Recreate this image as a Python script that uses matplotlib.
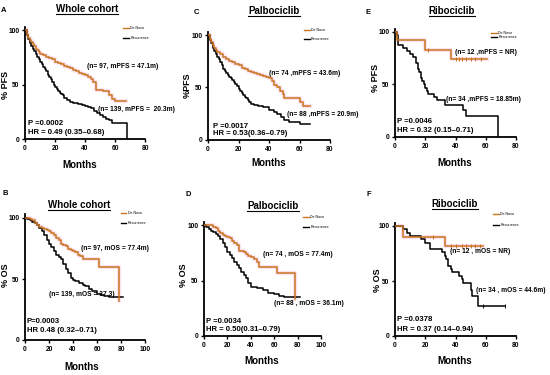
import matplotlib
matplotlib.use("Agg")
import matplotlib.pyplot as plt

plt.rcParams['font.family'] = ['Liberation Sans', 'DejaVu Sans']

# ---------------- data ----------------
# Panel A: Whole cohort PFS
A_dn_t = [0,1,2,3,4,5,6,7,8,9,10,12,14,16,18,20,22,24,26,28,30,32,34,36,38,40,42,44,45,47,52,56,58,60,67]
A_dn_s = [100,96,93,91,89,87,85,83,82,80,78,77,75,74,73,71,70,69,67,66,65,63,62,61,60,59,57,55,52,45,44,40,37,35,35]
A_re_t = [0,1,2,3,4,5,6,7,8,9,10,11,12,13,14,15,16,17,18,19,20,21,22,23,24,25,26,28,30,32,35,38,40,42,44,46,48,50,52,54,56,58,68]
A_re_s = [100,95,92,88,85,83,81,78,75,73,71,69,66,64,62,59,57,55,52,50,48,46,44,42,41,40,38,36,34,33,32,31,30,29,28,26,24,22,20,18,17,15,0]
# Panel C: Palbociclib PFS
C_dn_t = [0,1,2,3,4,5,6,8,10,12,14,16,18,20,22,24,26,28,30,32,34,36,38,40,42,43,45,47,49,50,55,60,62,67]
C_dn_s = [100,96,93,90,88,86,84,82,79,77,75,74,72,71,69,68,66,65,64,63,62,61,60,59,56,52,50,47,44,40,40,36,32,32]
C_re_t = [0,1,2,3,4,5,6,7,8,9,10,11,12,13,14,15,16,17,18,19,20,21,22,23,24,25,26,27,28,30,33,36,40,43,45,48,50,53,57,60,67]
C_re_s = [100,95,92,88,85,82,79,77,74,71,68,66,64,62,60,59,57,55,53,51,49,47,45,43,41,40,38,36,34,33,32,31,29,27,25,22,19,17,17,15,15]
# Panel E: Ribociclib PFS
E_dn_t = [0,1.5,20,37,61]
E_dn_s = [100,92,83,74,74]
E_re_t = [0,1,2,5,8,10,12,14,15,16,17,18,19,20,21,22,26,28,33,45,47,68]
E_re_s = [100,97,88,85,82,79,76,70,65,62,56,53,50,47,44,41,38,35,30,26,20,0]
# Panel B: Whole cohort OS
B_dn_t = [0,4,6,8,10,12,14,16,18,20,22,24,26,28,30,32,34,36,38,40,42,44,46,48,62,78]
B_dn_s = [100,99,98,96,94,93,92,91,90,89,88,86,84,82,79,78,77,75,74,73,72,70,69,66,60,32]
B_re_t = [0,2,4,6,8,10,12,14,16,18,20,22,24,26,28,30,32,34,36,38,40,42,45,48,50,53,56,60,63,66,70,82]
B_re_s = [100,99,98,97,96,94,92,89,86,82,79,76,73,70,68,66,62,58,55,51,49,48,47,45,44,42,40,38,37,36,35,35]
# Panel D: Palbociclib OS
D_dn_t = [0,8,10,12,14,16,18,20,22,24,26,28,30,34,36,38,40,43,45,47,62,78]
D_dn_s = [100,98,97,95,93,91,90,89,88,86,84,82,77,76,74,72,71,69,67,62,57,33]
D_re_t = [0,2,4,6,8,10,12,14,16,18,20,22,24,26,28,30,32,34,36,38,40,45,50,55,60,64,68,82]
D_re_s = [100,98,96,95,94,92,90,87,84,80,76,73,70,67,64,61,58,55,52,48,44,43,41,39,38,36,35,35]
# Panel F: Ribociclib OS
F_dn_t = [0,5,33,58]
F_dn_s = [100,90,82,82]
F_re_t = [0,5,8,10,17,20,23,31,33,34,35,37,38,42,44,45,50,51,55,73]
F_re_s = [100,97,94,91,88,85,79,76,73,70,64,61,58,55,52,48,42,36,27,27]

# censor marks (months)
E_dn_c = [22,40,42,44,47,50,53,57]
F_dn_c = [25,37,40,44,47,50,53,56]
F_re_c = [58,73]

letters = ['A', 'C', 'E', 'B', 'D', 'F']
titles = ['Whole cohort', 'Palbociclib', 'Ribociclib', 'Whole cohort', 'Palbociclib', 'Ribociclib']
ylabels = ['% PFS', '%PFS', '% PFS', '% OS', '% OS', '% OS']
series_labels = ['De Novo', 'Recurrence']
annot_dn = ['(n= 97, mPFS = 47.1m)', '(n= 74 ,mPFS = 43.6m)', '(n= 12 ,mPFS = NR)',
            '(n= 97, mOS = 77.4m)', '(n= 74 , mOS = 77.4m)', '(n= 12 , mOS = NR)']
annot_re = ['(n= 139, mPFS =  20.3m)', '(n= 88 ,mPFS = 20.9m)', '(n= 34 ,mPFS = 18.85m)',
            '(n= 139, mOS = 37.3)', '(n= 88 , mOS = 36.1m)', '(n= 34 , mOS = 44.6m)']
pvals = ['P =0.0002', 'P =0.0017', 'P =0.0046', 'P=0.0003', 'P =0.0034', 'P =0.0378']
hrs = ['HR = 0.49 (0.35\u20130.68)', 'HR = 0.53(0.36\u20130.79)', 'HR = 0.32 (0.15\u20130.71)',
       'HR 0.48 (0.32\u20130.71)', 'HR = 0.50(0.31\u20130.79)', 'HR = 0.37 (0.14\u20130.94)']
xmaxes = [80, 80, 80, 100, 100, 80]

curves = [
    (A_dn_t, A_dn_s, A_re_t, A_re_s, [], []),
    (C_dn_t, C_dn_s, C_re_t, C_re_s, [], []),
    (E_dn_t, E_dn_s, E_re_t, E_re_s, E_dn_c, []),
    (B_dn_t, B_dn_s, B_re_t, B_re_s, [], []),
    (D_dn_t, D_dn_s, D_re_t, D_re_s, [], []),
    (F_dn_t, F_dn_s, F_re_t, F_re_s, F_dn_c, F_re_c),
]

# ---------------- layout (pixels) ----------------
W, H = 550, 375
YTOP = 103
# x0px, xendpx, y0px, y100px
boxes = [(25, 145, 139, 30), (208, 330, 140, 35), (395, 516, 137, 32),
         (25, 145, 340, 218), (204, 321, 336, 225), (395, 516, 336, 226)]
letter_pos = [(4, 11), (196, 13), (368, 13), (5, 193), (188, 195), (369, 195)]
title_pos = [(87, 9), (274, 11), (452, 11), (79, 205), (273, 206), (455, 204)]
months_pos = [(80, 165), (269, 163), (455, 163), (82, 367), (262, 361), (455, 361)]
ylab_pos = [(6, 85), (187, 85), (376, 78), (6, 275), (183, 275), (377, 280)]
# annotation positions in data coords
dn_xy = [(41.6, 66.5), (39.7, 63), (39.8, 80.6), (47, 75), (50.7, 73.5), (36.5, 77)]
re_xy = [(49, 27), (51.6, 24), (33.8, 36), (20, 37), (60, 29), (53.7, 41.5)]
p_xy = [(2.2, 14.6), (3, 13), (1.5, 15), (1.4, 15), (1.4, 13.5), (1.5, 15)]
hr_xy = [(2.2, 6.4), (3, 6), (1.5, 6), (1.4, 7.4), (1.4, 5.7), (1.5, 5.8)]
leg_xy = [(65.5, 102, 93), (63, 105, 96), (63.6, 99, 95), (80, 104, 96), (85, 107, 98), (65, 111, 101)]

ORANGE = '#c8751f'
PINK = '#f9c3e0'

fig = plt.figure(figsize=(W / 100, H / 100), dpi=100)
title_texts = []
for i in range(6):
    x0, x1, y0, y100 = boxes[i]
    xmax = xmaxes[i]
    ytop_px = y0 - (y0 - y100) * YTOP / 100
    ax = fig.add_axes([x0 / W, 1 - y0 / H, (x1 - x0) / W, (y0 - ytop_px) / H])
    ax.set_xlim(0, xmax)
    ax.set_ylim(0, YTOP)
    dt, ds, rt, rs, dc, rc = curves[i]
    ax.step(dt, ds, where='post', color=PINK, lw=3.0, alpha=0.45, zorder=1)
    ax.step(dt, ds, where='post', color=ORANGE, lw=1.1, zorder=3, label=series_labels[0])
    ax.step(rt, rs, where='post', color='black', lw=1.1, zorder=2, label=series_labels[1])
    # censor marks
    if dc:
        dsv = [ds[max(k for k in range(len(dt)) if dt[k] <= c)] for c in dc]
        ax.plot(dc, dsv, linestyle='none', marker='|', ms=3, mew=0.7, color=ORANGE, zorder=3)
    if rc:
        rsv = [rs[max(k for k in range(len(rt)) if rt[k] <= c)] for c in rc]
        ax.plot(rc, rsv, linestyle='none', marker='|', ms=3, mew=0.7, color='black', zorder=3)
    for s in ['top', 'right']:
        ax.spines[s].set_visible(False)
    for s in ['left', 'bottom']:
        ax.spines[s].set_linewidth(1.3)
    ax.spines['left'].set_bounds(0, YTOP)
    ax.set_yticks([0, 50, 100])
    ax.set_xticks(list(range(0, xmax + 1, 20)))
    ax.tick_params(direction='out', length=2.5, width=1.0, labelsize=4.8, pad=1.5)
    for lab in ax.get_xticklabels() + ax.get_yticklabels():
        lab.set_fontweight('bold')
    ax.patch.set_alpha(0)
    # annotations
    ax.text(dn_xy[i][0], dn_xy[i][1], annot_dn[i], fontsize=4.8, fontweight='bold', va='center', ha='left')
    ax.text(re_xy[i][0], re_xy[i][1], annot_re[i], fontsize=4.8, fontweight='bold', va='center', ha='left', clip_on=False)
    ax.text(p_xy[i][0], p_xy[i][1], pvals[i], fontsize=5.6, fontweight='bold', va='center', ha='left')
    ax.text(hr_xy[i][0], hr_xy[i][1], hrs[i], fontsize=5.6, fontweight='bold', va='center', ha='left')
    # legend
    lx, ly1, ly2 = leg_xy[i]
    ll = xmax * 0.045
    ax.plot([lx, lx + ll], [ly1, ly1], color=ORANGE, lw=1.0, clip_on=False)
    ax.plot([lx, lx + ll], [ly2, ly2], color='black', lw=1.0, clip_on=False)
    ax.text(lx + ll * 1.3, ly1, series_labels[0], fontsize=2.6, va='center', ha='left', clip_on=False)
    ax.text(lx + ll * 1.3, ly2, series_labels[1], fontsize=2.6, va='center', ha='left', clip_on=False)
    # figure-level texts
    fig.text(letter_pos[i][0] / W, 1 - letter_pos[i][1] / H, letters[i], fontsize=5.5, fontweight='bold', ha='center', va='center')
    t = fig.text(title_pos[i][0] / W, 1 - title_pos[i][1] / H, titles[i], fontsize=7, fontweight='bold', ha='center', va='center')
    title_texts.append(t)
    fig.text(months_pos[i][0] / W, 1 - months_pos[i][1] / H, 'Months', fontsize=7, fontweight='bold', ha='center', va='center',
             family=['Liberation Sans Narrow', 'Liberation Sans', 'DejaVu Sans'])
    fig.text(ylab_pos[i][0] / W, 1 - ylab_pos[i][1] / H, ylabels[i], fontsize=6.5, fontweight='bold', ha='center', va='center', rotation=90)

# underline titles
fig.canvas.draw()
r = fig.canvas.get_renderer()
for t in title_texts:
    bb = t.get_window_extent(renderer=r)
    yline = (bb.y0 + 0.5) / H
    fig.add_artist(matplotlib.lines.Line2D([bb.x0 / W, bb.x1 / W], [yline, yline], color='black', lw=0.8))

fig.savefig('out.png', dpi=100)
